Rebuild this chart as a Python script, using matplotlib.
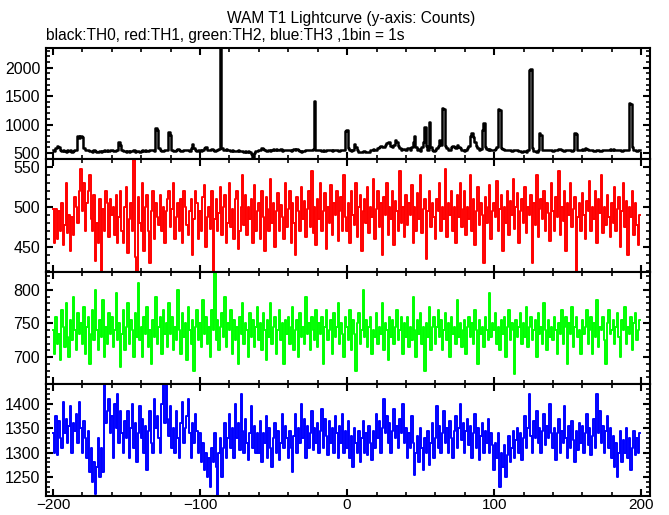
import numpy as np
import matplotlib
matplotlib.use("Agg")
import matplotlib.pyplot as plt
from matplotlib.ticker import MultipleLocator

plt.rcParams['font.family'] = ['Liberation Sans', 'DejaVu Sans']

# time bins (1 bin = 1 s)
t_start = -200

th0 = [
    555, 530, 590, 620, 600, 560, 540, 555, 535, 520, 545, 530, 550, 525, 540, 560, 545, 790, 760, 800,
    780, 590, 560, 550, 545, 530, 540, 525, 550, 535, 520, 515, 530, 525, 540, 545, 530, 550, 540, 545,
    550, 540, 535, 545, 560, 700, 640, 560, 540, 530, 525, 540, 520, 535, 530, 545, 525, 530, 540, 520,
    535, 545, 530, 550, 540, 535, 545, 550, 560, 540, 940, 910, 590, 545, 530, 540, 560, 550, 545, 875,
    820, 560, 540, 530, 560, 575, 545, 530, 540, 555, 545, 560, 550, 535, 590, 660, 580, 550, 540, 545,
    560, 540, 550, 580, 600, 560, 545, 555, 570, 545, 540, 555, 550, 565, 2400, 590, 560, 555, 570, 545,
    550, 540, 545, 535, 540, 530, 545, 535, 540, 530, 520, 535, 525, 540, 510, 480, 430, 500, 530, 540,
    545, 560, 580, 570, 550, 540, 530, 545, 540, 555, 565, 550, 575, 560, 545, 565, 540, 550, 560, 545,
    560, 550, 540, 555, 570, 560, 575, 550, 530, 520, 535, 540, 550, 560, 545, 555, 560, 565, 1415, 560,
    550, 545, 560, 540, 550, 535, 545, 550, 560, 545, 540, 555, 545, 550, 530, 540, 545, 560, 560, 880,
    905, 580, 560, 540, 560, 660, 600, 550, 525, 520, 515, 530, 540, 510, 520, 525, 545, 560, 570, 555,
    560, 580, 600, 620, 610, 600, 640, 680, 700, 690, 620, 600, 640, 730, 700, 620, 590, 560, 565, 575,
    560, 580, 590, 560, 600, 700, 805, 600, 560, 570, 540, 600, 700, 950, 620, 560, 1040, 600, 560, 540,
    550, 580, 620, 720, 640, 1290, 1270, 620, 580, 560, 545, 600, 620, 600, 580, 640, 610, 580, 560, 545,
    540, 560, 580, 620, 800, 850, 780, 700, 620, 580, 560, 575, 900, 1020, 600, 565, 560, 575, 560, 545,
    560, 575, 600, 1275, 1260, 590, 565, 560, 550, 545, 560, 555, 540, 550, 545, 560, 555, 540, 530, 520,
    535, 540, 520, 550, 1950, 1975, 580, 540, 530, 520, 545, 846, 820, 560, 550, 545, 555, 560, 545, 550,
    540, 545, 555, 560, 570, 565, 550, 540, 530, 545, 560, 545, 550, 535, 545, 860, 830, 560, 545, 555,
    570, 560, 580, 575, 560, 545, 560, 555, 540, 535, 550, 545, 530, 540, 545, 560, 555, 550, 545, 565,
    560, 575, 555, 550, 545, 560, 550, 540, 560, 555, 545, 560, 1375, 1360, 600, 560, 545, 540, 555, 560,
]

th1 = [
    498, 455, 497, 460, 495, 470, 505, 452, 478, 530, 468, 490, 445, 488, 465, 512, 500, 480, 520, 548,
    495, 530, 470, 505, 520, 540, 485, 470, 515, 432, 480, 455, 510, 420, 498, 470, 520, 505, 462, 510,
    490, 500, 465, 515, 455, 488, 520, 470, 455, 500, 525, 443, 485, 505, 470, 560, 438, 420, 512, 480,
    470, 530, 445, 500, 515, 470, 430, 495, 520, 460, 505, 488, 478, 515, 470, 500, 455, 495, 510, 520,
    475, 498, 530, 460, 488, 505, 470, 510, 455, 520, 500, 478, 465, 495, 510, 440, 485, 520, 505, 460,
    495, 470, 512, 528, 450, 488, 500, 472, 520, 418, 485, 510, 470, 492, 525, 465, 500, 515, 455, 480,
    530, 475, 498, 460, 510, 520, 448, 470, 500, 540, 478, 515, 465, 500, 485, 510, 455, 528, 470, 495,
    505, 460, 520, 488, 445, 512, 498, 470, 535, 480, 505, 450, 495, 518, 470, 502, 488, 460, 530, 475,
    498, 520, 455, 505, 480, 440, 512, 495, 470, 525, 485, 508, 462, 498, 520, 475, 545, 468, 500, 452,
    510, 485, 530, 470, 495, 518, 448, 500, 480, 528, 465, 505, 490, 520, 458, 495, 512, 470, 540, 488,
    470, 505, 455, 520, 490, 478, 530, 462, 500, 515, 445, 495, 510, 480, 525, 468, 500, 488, 535, 460,
    498, 520, 475, 505, 440, 512, 490, 530, 465, 500, 485, 520, 452, 508, 495, 470, 545, 480, 500, 462,
    515, 478, 505, 490, 528, 455, 500, 470, 518, 485, 540, 468, 498, 510, 435, 495, 520, 475, 505, 488,
    460, 510, 495, 530, 470, 500, 485, 548, 462, 505, 490, 520, 470, 500, 455, 515, 488, 530, 475, 498,
    520, 465, 500, 485, 540, 470, 510, 452, 495, 525, 478, 505, 490, 430, 512, 480, 500, 528, 460, 495,
    505, 488, 532, 470, 498, 515, 445, 500, 480, 520, 465, 508, 490, 535, 472, 500, 518, 455, 495, 510,
    480, 525, 468, 500, 490, 515, 430, 505, 478, 540, 462, 498, 510, 485, 520, 470, 505, 492, 458, 530,
    495, 470, 512, 488, 545, 465, 500, 482, 520, 445, 505, 490, 530, 475, 498, 512, 420, 488, 505, 470,
    518, 490, 460, 508, 495, 532, 470, 500, 485, 520, 455, 510, 492, 540, 468, 500, 478, 515, 488, 462,
    505, 480, 525, 470, 498, 512, 450, 495, 530, 475, 508, 440, 500, 488, 520, 465, 505, 478, 452, 490,
]

th2 = [
    740, 705, 760, 720, 735, 695, 770, 745, 715, 780, 730, 700, 755, 725, 790, 740, 710, 765, 735, 750,
    720, 775, 705, 745, 760, 690, 735, 770, 725, 800, 740, 710, 755, 730, 785, 700, 745, 720, 765, 735,
    760, 715, 740, 795, 725, 750, 685, 735, 770, 710, 745, 780, 720, 755, 740, 700, 765, 730, 810, 725,
    745, 700, 760, 735, 775, 715, 740, 690, 755, 730, 790, 720, 745, 760, 705, 770, 735, 750, 715, 780,
    735, 760, 710, 745, 725, 800, 740, 705, 765, 730, 750, 695, 775, 740, 720, 755, 680, 745, 770, 725,
    750, 715, 785, 735, 760, 720, 745, 700, 770, 740, 825, 725, 755, 710, 745, 765, 730, 790, 715, 750,
    740, 770, 705, 755, 725, 745, 690, 760, 735, 780, 720, 750, 740, 700, 765, 730, 755, 715, 745, 775,
    725, 750, 710, 765, 740, 695, 755, 730, 780, 720, 745, 760, 705, 740, 770, 725, 750, 690, 755, 735,
    760, 720, 745, 775, 710, 740, 755, 700, 765, 730, 745, 720, 790, 735, 750, 710, 760, 740, 725, 770,
    715, 750, 735, 760, 690, 745, 770, 725, 740, 755, 705, 765, 730, 745, 780, 720, 750, 735, 700, 760,
    745, 725, 770, 710, 755, 735, 680, 750, 765, 720, 740, 800, 730, 755, 715, 745, 760, 705, 740, 730,
    765, 720, 745, 735, 780, 710, 750, 740, 695, 760, 730, 755, 720, 745, 770, 725, 740, 760, 705, 750,
    730, 760, 715, 745, 725, 790, 740, 700, 755, 735, 765, 720, 745, 680, 750, 730, 775, 710, 745, 760,
    720, 745, 770, 730, 755, 710, 740, 765, 725, 750, 700, 760, 735, 745, 720, 785, 730, 750, 715, 740,
    755, 705, 745, 760, 730, 750, 720, 770, 740, 690, 755, 735, 745, 715, 760, 740, 725, 795, 730, 750,
    740, 765, 720, 745, 710, 755, 735, 760, 700, 745, 770, 725, 750, 740, 675, 755, 730, 745, 765, 720,
    750, 730, 775, 715, 745, 760, 725, 740, 755, 700, 765, 735, 745, 720, 780, 740, 710, 755, 730, 745,
    725, 760, 740, 705, 750, 735, 770, 720, 745, 760, 690, 750, 735, 775, 715, 745, 760, 730, 740, 705,
    755, 735, 745, 770, 720, 740, 760, 705, 750, 730, 785, 715, 745, 740, 760, 725, 690, 750, 770, 735,
    740, 755, 720, 745, 765, 730, 700, 755, 740, 775, 720, 745, 735, 760, 710, 750, 765, 725, 740, 755,
]

th3 = [
    1340, 1300, 1375, 1295, 1365, 1330, 1310, 1405, 1340, 1370, 1320, 1355, 1395, 1300, 1360, 1345, 1380, 1320, 1405, 1350,
    1300, 1365, 1330, 1290, 1345, 1260, 1310, 1240, 1280, 1215, 1270, 1330, 1250, 1310, 1260, 1440, 1360, 1385, 1410, 1340,
    1375, 1290, 1400, 1350, 1420, 1320, 1385, 1340, 1300, 1365, 1330, 1385, 1290, 1350, 1400, 1310, 1360, 1280, 1340, 1395,
    1330, 1370, 1300, 1355, 1265, 1345, 1385, 1320, 1300, 1410, 1350, 1375, 1330, 1300, 1400, 1440, 1360, 1440, 1370, 1335,
    1395, 1310, 1350, 1300, 1385, 1330, 1290, 1360, 1405, 1320, 1350, 1375, 1410, 1340, 1290, 1360, 1320, 1380, 1345, 1300,
    1340, 1280, 1320, 1265, 1300, 1250, 1290, 1230, 1310, 1280, 1340, 1270, 1210, 1300, 1330, 1250, 1310, 1360, 1290, 1330,
    1380, 1310, 1350, 1290, 1400, 1330, 1360, 1305, 1420, 1345, 1300, 1370, 1320, 1285, 1340, 1395, 1310, 1355, 1300, 1340,
    1300, 1365, 1280, 1340, 1320, 1375, 1290, 1350, 1310, 1270, 1330, 1360, 1300, 1345, 1285, 1320, 1380, 1310, 1355, 1330,
    1290, 1345, 1310, 1260, 1335, 1380, 1300, 1350, 1320, 1400, 1330, 1370, 1290, 1355, 1310, 1340, 1385, 1305, 1350, 1320,
    1360, 1300, 1345, 1390, 1310, 1370, 1335, 1295, 1365, 1320, 1350, 1300, 1375, 1340, 1290, 1355, 1320, 1380, 1300, 1345,
    1310, 1365, 1290, 1335, 1270, 1350, 1320, 1300, 1345, 1280, 1330, 1365, 1300, 1340, 1295, 1355, 1320, 1285, 1345, 1310,
    1380, 1330, 1365, 1300, 1350, 1410, 1340, 1375, 1320, 1360, 1300, 1345, 1390, 1330, 1355, 1310, 1370, 1340, 1400, 1320,
    1350, 1290, 1340, 1310, 1375, 1320, 1255, 1300, 1335, 1280, 1350, 1310, 1265, 1330, 1300, 1345, 1275, 1320, 1360, 1290,
    1330, 1395, 1310, 1355, 1300, 1340, 1385, 1320, 1350, 1300, 1365, 1330, 1290, 1345, 1375, 1310, 1350, 1400, 1325, 1360,
    1300, 1345, 1370, 1315, 1355, 1290, 1340, 1380, 1310, 1350, 1285, 1335, 1360, 1300, 1345, 1320, 1370, 1300, 1340, 1315,
    1265, 1320, 1290, 1340, 1230, 1300, 1270, 1315, 1250, 1295, 1335, 1280, 1310, 1345, 1290, 1325, 1350, 1300, 1340, 1285,
    1330, 1375, 1310, 1350, 1420, 1335, 1300, 1365, 1330, 1385, 1320, 1350, 1300, 1345, 1380, 1315, 1355, 1330, 1400, 1340,
    1310, 1350, 1285, 1340, 1370, 1300, 1345, 1320, 1395, 1330, 1290, 1355, 1310, 1365, 1325, 1280, 1345, 1305, 1360, 1320,
    1355, 1300, 1340, 1380, 1315, 1350, 1295, 1335, 1370, 1310, 1420, 1340, 1385, 1320, 1355, 1300, 1345, 1375, 1310, 1350,
    1290, 1335, 1270, 1320, 1250, 1300, 1345, 1280, 1325, 1300, 1350, 1290, 1330, 1265, 1310, 1345, 1295, 1330, 1300, 1340,
]

series = [th0, th1, th2, th3]
colors = ['black', '#ff0000', '#00ff00', '#0000ff']
ylims = [(395, 2345), (419, 560), (660, 827), (1211, 1441)]
major = [500, 50, 50, 50]
minor = [100, 10, 10, 10]
lws = [1.8, 1.4, 1.4, 1.4]

fig = plt.figure(figsize=(6.69, 5.15), dpi=100)
fig.text(0.525, 0.965, 'WAM T1 Lightcurve (y-axis: Counts)', ha='center', va='center', fontsize=11.2)
fig.text(0.069, 0.932, 'black:TH0, red:TH1, green:TH2, blue:TH3 ,1bin = 1s', ha='left', va='center', fontsize=11.2)

bounds = [0.9068, 0.6913, 0.4724, 0.2544, 0.0369]
left, width = 0.0683, 0.9033

for k in range(4):
    y = np.array(series[k])
    t = t_start + np.arange(len(y))
    ax = fig.add_axes([left, bounds[k + 1], width, bounds[k] - bounds[k + 1]])
    ax.plot(t, y, color=colors[k], lw=lws[k], drawstyle='steps-mid')
    ax.set_xlim(-205, 206)
    ax.set_ylim(*ylims[k])
    ax.xaxis.set_major_locator(MultipleLocator(100))
    ax.xaxis.set_minor_locator(MultipleLocator(20))
    ax.yaxis.set_major_locator(MultipleLocator(major[k]))
    ax.yaxis.set_minor_locator(MultipleLocator(minor[k]))
    ax.tick_params(which='both', direction='in', top=True, right=True, labelsize=11.5, pad=4)
    ax.tick_params(axis='x', labelsize=11, pad=1.5)
    ax.tick_params(which='major', length=5, width=1.5)
    ax.tick_params(which='minor', length=3, width=1.2)
    for s in ax.spines.values():
        s.set_linewidth(1.5)
    if k < 3:
        ax.tick_params(labelbottom=False)

fig.savefig('out.png', dpi=100)
